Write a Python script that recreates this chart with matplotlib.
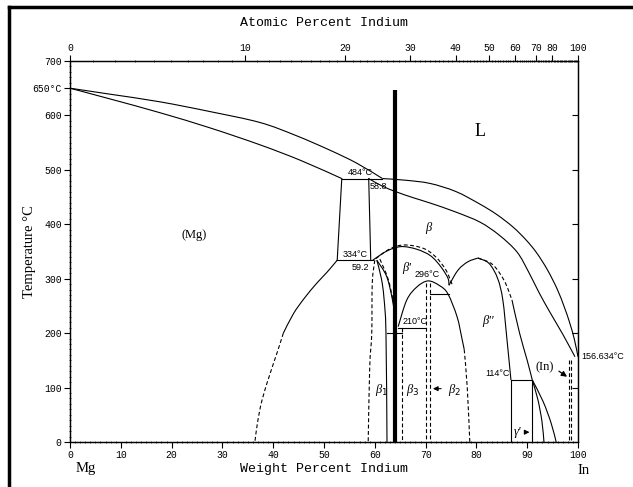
import matplotlib
matplotlib.use("Agg")
import matplotlib.pyplot as plt
from matplotlib.lines import Line2D
from matplotlib.path import Path
from matplotlib.patches import PathPatch
import numpy as np

# ---------------- data (wt% In, temperature degC) ----------------
liq_mg_w = [0, 7.9, 17.7, 27.6, 37.4, 44.5, 51.2, 56.5, 61.5]
liq_mg_T = [650, 639, 625, 607, 587, 563, 536, 512, 484]
sol_mg_w = [0, 8, 17.7, 27.6, 37.4, 45.5, 53.5]
sol_mg_T = [650, 630, 605, 577, 546, 517, 484]
liq_in_w = [61.5, 66, 70.9, 76, 80.7, 84, 87.2, 89.8, 91.9, 94, 95.9, 97.3, 98.4, 99.3, 100]
liq_in_T = [484, 481, 475, 460, 437, 418, 395, 371, 347, 316, 281, 248, 218, 188, 156.634]
sol_in_w = [58.8, 61.5, 64.4, 67.5, 70.9, 75.8, 80.7, 84.5, 88, 90.3, 92.3, 94.5, 97, 99.4]
sol_in_T = [484, 470, 459, 449, 439, 423, 404, 380, 349, 312, 275, 238, 198, 156.634]
per484_w = [53.5, 61.5]
per484_T = [484, 484]
mgb_left_w = [53.5, 52.6]
mgb_left_T = [484, 334]
mgb_right_w = [58.8, 59.2]
mgb_right_T = [484, 334]
eut334_w = [52.6, 59.6]
eut334_T = [334, 334]
mg_solvus_w = [52.6, 50.6, 48.6, 46.2, 44.0, 42.0]
mg_solvus_T = [334, 312, 292, 265, 236, 200]
mg_solvus_d_w = [42.0, 40.8, 39.4, 37.8, 36.9, 36.4]
mg_solvus_d_T = [200, 165, 126, 77, 35, 0]
bp_dome_w = [59.6, 62.4, 65.2, 68.3, 71, 73, 74.4, 74.6]
bp_dome_T = [334, 351, 359, 354, 342, 322, 301, 288]
bp_dome_d_w = [60.2, 63, 65.8, 69.5, 72, 74, 75.2]
bp_dome_d_T = [337, 355, 362, 356, 340, 316, 290]
b1_left_d_w = [60.0, 59.5, 59.4, 59.0, 58.7]
b1_left_d_T = [334, 292, 200, 138, 0]
b1_right_w = [60.4, 61.3, 61.8, 62.2, 62.4]
b1_right_T = [334, 300, 265, 200, 0]
v_solid_w = [60.4, 62.3, 63.4, 64.0]
v_solid_T = [334, 305, 265, 230]
v_dash_w = [61.0, 62.6, 63.6, 64.0]
v_dash_T = [336, 300, 260, 240]
b2_dome_w = [64.6, 66.3, 68.3, 70.5, 72.8, 74.4, 76.2, 77.2, 77.6]
b2_dome_T = [212, 261, 285, 296, 287, 272, 230, 188, 170]
b2_dome_d_w = [77.6, 78.2, 78.7]
b2_dome_d_T = [170, 100, 0]
line210_w = [64.6, 70.1]
line210_T = [210, 210]
line200_w = [62.4, 65.4]
line200_T = [200, 200]
b3_vert_w = [65.4, 65.4]
b3_vert_T = [210, 0]
b2_vert1_w = [70.1, 70.1]
b2_vert2_w = [70.9, 70.9]
b2_vert_T = [292, 0]
line272_w = [70.9, 74.6]
line272_T = [272, 272]
bpp_rise_w = [74.6, 76.4, 78.3, 80.3]
bpp_rise_T = [288, 316, 331, 338]
bpp_right_w = [80.3, 82.5, 84.2, 85.2, 86.0, 86.8]
bpp_right_T = [338, 328, 300, 261, 190, 114]
bpp_out_d_w = [80.3, 83.2, 85.5, 87.0]
bpp_out_d_T = [338, 326, 296, 261]
gam_left_w = [87.0, 88.5, 90, 91]
gam_left_T = [261, 200, 150, 114]
bpp_vert_w = [86.8, 86.8]
bpp_vert_T = [114, 0]
line114_w = [86.8, 91]
line114_T = [114, 114]
gam_vert_w = [91, 91]
gam_vert_T = [114, 0]
gam_r1_w = [91, 92.1, 92.9, 93.3]
gam_r1_T = [114, 78, 38, 0]
gam_r2_w = [91, 93.1, 94.7, 95.7]
gam_r2_T = [114, 75, 35, 0]
in_d1_w = [98.2, 98.2]
in_d2_w = [98.6, 98.6]
in_d_T = [150, 0]
marker_w = [64.0, 64.0]
marker_T = [0, 647]

left_ticks = [0, 100, 200, 300, 400, 500, 600, 650, 700]
left_labels = ["0", "100", "200", "300", "400", "500", "600", "650°C", "700"]
bottom_ticks = list(range(0, 101, 10))
top_at_ticks = [0, 10, 20, 30, 40, 50, 60, 70, 80, 100]

M_IN, M_MG = 114.818, 24.305


def at_to_wt(a):
    a = np.asarray(a, dtype=float)
    return 100 * a * M_IN / (a * M_IN + (100 - a) * M_MG)


# ---------------- figure ----------------
fig = plt.figure(figsize=(6.33, 4.87), dpi=100)
ax = fig.add_axes([70 / 633, 1 - 442 / 487, 508 / 633, 381 / 487])
ax.set_xlim(0, 100)
ax.set_ylim(0, 700)

LW = 0.8
DASH = (0, (3.5, 2.2))
SX, SY = 5.08, 0.5443  # display scale factors for smoothing


def smooth_curve(w, T, **kw):
    """Draw a smooth curve through the read points (Catmull-Rom as cubic Bezier)."""
    P = np.column_stack([np.asarray(w, float) * SX, np.asarray(T, float) * SY])
    if len(P) < 3:
        ax.plot(w, T, color="black", lw=LW, **kw)
        return
    Q = np.vstack([P[0], P, P[-1]])
    verts = [P[0]]
    codes = [Path.MOVETO]
    for i in range(1, len(Q) - 2):
        p0, p1, p2, p3 = Q[i - 1], Q[i], Q[i + 1], Q[i + 2]
        c1 = p1 + (p2 - p0) / 6.0
        c2 = p2 - (p3 - p1) / 6.0
        verts += [c1, c2, p2]
        codes += [Path.CURVE4] * 3
    V = np.array(verts) / np.array([SX, SY])
    patch = PathPatch(Path(V, codes), fill=False, edgecolor="black", lw=LW,
                      capstyle="butt", joinstyle="round", **kw)
    ax.add_patch(patch)


solid = [
    (liq_mg_w, liq_mg_T), (sol_mg_w, sol_mg_T), (liq_in_w, liq_in_T), (sol_in_w, sol_in_T),
    (per484_w, per484_T), (mgb_left_w, mgb_left_T), (mgb_right_w, mgb_right_T),
    (eut334_w, eut334_T), (mg_solvus_w, mg_solvus_T), (bp_dome_w, bp_dome_T),
    (b1_right_w, b1_right_T), (v_solid_w, v_solid_T), (b2_dome_w, b2_dome_T),
    (line210_w, line210_T), (line200_w, line200_T), (line272_w, line272_T),
    (bpp_rise_w, bpp_rise_T), (bpp_right_w, bpp_right_T), (gam_left_w, gam_left_T),
    (bpp_vert_w, bpp_vert_T), (line114_w, line114_T), (gam_vert_w, gam_vert_T),
    (gam_r1_w, gam_r1_T), (gam_r2_w, gam_r2_T),
]
dashed = [
    (mg_solvus_d_w, mg_solvus_d_T), (bp_dome_d_w, bp_dome_d_T), (b1_left_d_w, b1_left_d_T),
    (v_dash_w, v_dash_T), (b2_dome_d_w, b2_dome_d_T), (b3_vert_w, b3_vert_T),
    (b2_vert1_w, b2_vert_T), (b2_vert2_w, b2_vert_T), (bpp_out_d_w, bpp_out_d_T),
    (in_d1_w, in_d_T), (in_d2_w, in_d_T),
]
for w, T in solid:
    smooth_curve(w, T)
for w, T in dashed:
    smooth_curve(w, T, linestyle=DASH)
ax.plot(marker_w, marker_T, color="black", lw=3.0, solid_capstyle="butt")

# ---------------- axes styling ----------------
tickfont = dict(family="Liberation Mono", size=7)
ax.set_yticks(left_ticks)
ax.set_yticklabels(left_labels, **tickfont)
ax.set_yticks(np.arange(0, 701, 10), minor=True)
ax.set_xticks(bottom_ticks)
ax.set_xticklabels([str(t) for t in bottom_ticks], **tickfont)
ax.set_xticks(np.arange(0, 101, 1), minor=True)
ax.tick_params(axis="both", which="major", direction="out", length=4, width=0.8, pad=2)
ax.tick_params(axis="both", which="minor", direction="inout", length=2, width=0.5)
for s in ax.spines.values():
    s.set_linewidth(0.9)

# right axis ticks
axr = ax.twinx()
axr.set_ylim(0, 700)
axr.set_yticks([100, 200, 300, 400, 500, 600])
axr.set_yticklabels([])
axr.tick_params(axis="y", direction="in", length=4, width=0.8)

# top axis (atomic percent)
axt = ax.twiny()
axt.set_xlim(0, 100)
axt.set_xticks(at_to_wt(top_at_ticks))
axt.set_xticklabels([str(t) for t in top_at_ticks], **tickfont)
axt.set_xticks(at_to_wt(np.arange(0, 101, 1)), minor=True)
axt.tick_params(axis="x", which="major", direction="out", length=4, width=0.8, pad=2)
axt.tick_params(axis="x", which="minor", direction="inout", length=2, width=0.5)
axt.set_xlabel("Atomic Percent Indium", family="Liberation Mono", size=9.5, labelpad=12)

ax.set_xlabel("Weight Percent Indium", family="Liberation Mono", size=9.5, labelpad=2)
ax.set_ylabel("Temperature °C", family="Liberation Serif", size=10.5)
ax.yaxis.set_label_coords(-0.067, 0.50)

# ---------------- annotations ----------------
small = dict(family="Liberation Sans", size=6.5, color="black")
greek = dict(family="Liberation Serif", size=9, style="italic", color="black")
ax.text(57.2, 487, "484°C", ha="center", va="bottom", **small)
ax.text(58.9, 470, "58.8", ha="left", va="center", **small)
ax.text(56.2, 337, "334°C", ha="center", va="bottom", **small)
ax.text(58.8, 320, "59.2", ha="right", va="center", **small)
ax.text(70.5, 393, "β", ha="center", va="center", **greek)
ax.text(66.3, 320, "β'", ha="center", va="center", **greek)
ax.text(70.3, 300, "296°C", ha="center", va="bottom", **small)
ax.text(68.0, 213, "210°C", ha="center", va="bottom", **small)
ax.text(82.2, 222, "β''", ha="center", va="center", **greek)
ax.text(61.4, 96, "β$_1$", ha="center", va="center", **greek)
ax.text(67.4, 96, "β$_3$", ha="center", va="center", **greek)
ax.text(75.8, 96, "β$_2$", ha="center", va="center", **greek)
ax.annotate("", xy=(70.9, 98), xytext=(73.6, 98),
            arrowprops=dict(arrowstyle="-|>", color="black", lw=0.8, mutation_scale=7))
ax.text(86.5, 117, "114°C", ha="right", va="bottom", **small)
ax.text(88.0, 18, "γ'", ha="center", va="center", **greek)
ax.annotate("", xy=(91.0, 18), xytext=(89.0, 18),
            arrowprops=dict(arrowstyle="-|>", color="black", lw=0.8, mutation_scale=7))
ax.text(93.5, 138, "(In)", ha="center", va="center", family="Liberation Serif",
        size=9)
ax.annotate("", xy=(98.3, 117), xytext=(95.8, 133),
            arrowprops=dict(arrowstyle="-|>", color="black", lw=0.9, mutation_scale=8))
ax.text(100.6, 156.634, "156.634°C", ha="left", va="center", clip_on=False, **small)
ax.text(24.5, 380, "(Mg)", ha="center", va="center", family="Liberation Serif", size=9)
ax.text(80.8, 570, "L", ha="center", va="center", family="Liberation Serif", size=13)
ax.text(3.0, -48, "Mg", ha="center", va="center", family="Liberation Serif", size=10.5,
        clip_on=False)
ax.text(101.0, -52, "In", ha="center", va="center", family="Liberation Serif", size=10.5,
        clip_on=False)

# ---------------- outer frame ----------------
fig.add_artist(Line2D([9 / 633, 1.0], [1 - 7 / 487, 1 - 7 / 487], transform=fig.transFigure,
                      color="black", lw=2.5))
fig.add_artist(Line2D([9 / 633, 9 / 633], [0, 1 - 7 / 487], transform=fig.transFigure,
                      color="black", lw=2.5))

fig.savefig("out.png", dpi=100)
